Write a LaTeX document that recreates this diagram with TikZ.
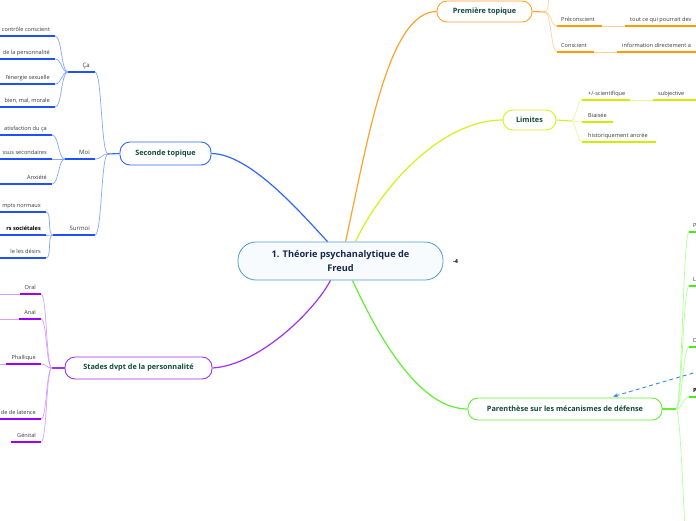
\documentclass[tikz,border=0pt]{standalone}
\usepackage{fontspec}
\setmainfont{Open Sans}
\usetikzlibrary{calc,arrows.meta}
\definecolor{blueM}{HTML}{2F66FF}
\definecolor{blueD}{HTML}{1F4FFF}
\definecolor{blueL}{HTML}{86A6FF}
\definecolor{purpleM}{HTML}{A030F5}
\definecolor{purpleD}{HTML}{9900FF}
\definecolor{purpleL}{HTML}{D59EFF}
\definecolor{orangeM}{HTML}{FFA22E}
\definecolor{orangeD}{HTML}{FF9A00}
\definecolor{orangeL}{HTML}{FFD294}
\definecolor{limeM}{HTML}{D6F01A}
\definecolor{limeD}{HTML}{CCEE00}
\definecolor{limeL}{HTML}{EAF896}
\definecolor{greenM}{HTML}{62EE33}
\definecolor{greenD}{HTML}{44EE11}
\definecolor{greenL}{HTML}{B0FF96}
\definecolor{rootB}{HTML}{4C9BD8}
\definecolor{rootF}{HTML}{F8FBFE}
\definecolor{rootT}{HTML}{16284A}
\definecolor{topicT}{HTML}{124A3A}
\definecolor{leafT}{HTML}{3A3A3A}
\definecolor{dashC}{HTML}{3A8BE0}
\tikzset{
  rootnode/.style={draw=rootB,fill=rootF,line width=0.8pt,rounded corners=18pt,
    minimum width=205pt,minimum height=38pt,align=center,inner sep=0pt,
    font=\bfseries\fontsize{9.2}{14}\selectfont,text=rootT},
  topic/.style={fill=white,line width=0.9pt,rounded corners=10pt,inner sep=0pt,
    font=\bfseries\fontsize{7.3}{8}\selectfont,text=topicT},
  mainc/.style={line width=1.2pt},
  stem/.style={line width=1.1pt},
  uline/.style={line width=1.4pt},
  lightc/.style={line width=0.7pt},
  lbl/.style={inner sep=0pt,font=\fontsize{5.6}{6}\selectfont,text=leafT},
  sublbl/.style={font=\fontsize{6}{6}\selectfont},
  fk/.style={to path={.. controls ($(\tikztostart)+(#1,0)$) and ($(\tikztotarget)+(-#1,0)$) .. (\tikztotarget)}},
  fk/.default=7,
  dasharrow/.style={dashC,line width=0.9pt,dash pattern=on 4pt off 3pt,
    -{Stealth[length=5pt,width=4pt,open]}}
}
% left-side leaf: underline from xl to xr at y, text right-aligned
\newcommand\lft[7][]{%
  \coordinate (#2-a) at (#3,#5);
  \coordinate (#2-b) at (#4,#5);
  \draw[uline,#7] (#2-a) -- (#2-b);
  \node[lbl,anchor=base east,#1] (#2) at ($(#2-b)+(-5,-5)$) {#6};
}
% right-side leaf: underline from xl to xr at y, text left-aligned
\newcommand\rgt[7][]{%
  \coordinate (#2-a) at (#3,#5);
  \coordinate (#2-b) at (#4,#5);
  \draw[uline,#7] (#2-a) -- (#2-b);
  \node[lbl,anchor=base west,#1] (#2) at ($(#2-a)+(5,-5)$) {#6};
}
\begin{document}
\begin{tikzpicture}[x=1pt,y=-1pt]
\useasboundingbox (0,0) rectangle (696,520);
\fill[white] (0,0) rectangle (696,520);

% ---------- nodes ----------
\node[rootnode] (root) at (340.5,261) {1. Théorie psychanalytique de\\Freud};
\node[topic,draw=blueM,minimum width=91pt,minimum height=23pt] (sec) at (165.5,153.5) {Seconde topique};
\node[topic,draw=orangeM,minimum width=95pt,minimum height=21pt] (prem) at (484.5,11.5) {Première topique};
\node[topic,draw=limeM,minimum width=53pt,minimum height=20pt] (lim) at (529.5,120) {Limites};
\node[topic,draw=purpleM,minimum width=147pt,minimum height=22pt] (stad) at (138.5,368) {Stades dvpt de la personnalité};
\node[topic,draw=greenM,minimum width=194pt,minimum height=22pt] (pmd) at (565,409) {Parenthèse sur les mécanismes de défense};
\node[inner sep=0pt,font=\bfseries\fontsize{5.5}{6}\selectfont,text=black] (icon) at (455.5,262) {-4};

% ---------- main connectors ----------
\draw[mainc,blueM] (sec.east) .. controls (250,154) and (300,212) .. ($(root.north)+(-13,0)$);
\draw[mainc,orangeM] ($(root.north)+(5,0)$) .. controls (368,140) and (388,12) .. (prem.west);
\draw[mainc,limeM] ($(root.north)+(15,0)$) .. controls (385,180) and (445,120) .. (lim.west);
\draw[mainc,purpleM] ($(root.south)+(-10,0)$) .. controls (315,310) and (260,365) .. (stad.east);
\draw[mainc,greenM] ($(root.south)+(12,0)$) .. controls (380,340) and (420,409) .. (pmd.west);

% ---------- Seconde topique ----------
\coordinate (secF) at (108,154);
\draw[stem,blueM] (sec.west) -- (secF);
\lft[sublbl]{ca}{68}{95}{72}{Ça}{blueD}
\lft[sublbl]{moi}{65}{95}{159}{Moi}{blueD}
\lft[sublbl]{sur}{53}{95}{235}{Surmoi}{blueD}
\foreach \n in {ca,moi,sur} \draw[lightc,blueL] (\n-b) to[fk=7] (secF);
\lft{c1}{0}{55}{36}{contrôle conscient}{blueD}
\lft{c2}{0}{55}{59}{de la personnalité}{blueD}
\lft{c3}{0}{55}{84}{l'énergie sexuelle}{blueD}
\lft{c4}{0}{55}{107}{bien, mal, morale}{blueD}
\foreach \n in {c1,c2,c3,c4} \draw[lightc,blueL] (ca-a) to[fk=-7] (\n-b);
\lft{m1}{0}{52}{135}{atisfaction du ça}{blueD}
\lft{m2}{0}{52}{159}{ssus secondaires}{blueD}
\lft{m3}{0}{52}{184}{Anxiété}{blueD}
\foreach \n in {m1,m2,m3} \draw[lightc,blueL] (moi-a) to[fk=-7] (\n-b);
\lft{s1}{0}{46}{212}{mpts normaux}{blueD}
\lft[font=\bfseries\fontsize{5.6}{6}\selectfont,text=black]{s2}{0}{46}{235}{rs sociétales}{blueD}
\lft{s3}{0}{46}{258}{le les désirs}{blueD}
\foreach \n in {s1,s2,s3} \draw[lightc,blueL] (sur-a) to[fk=-6] (\n-b);

% ---------- Stades ----------
\coordinate (stF) at (52,368);
\draw[stem,purpleM] (stad.west) -- (stF);
\lft{p1}{20}{41}{294}{Oral}{purpleD}
\lft{p2}{19}{41}{319}{Anal}{purpleD}
\lft{p3}{6}{41}{364}{Phallique}{purpleD}
\lft{p4}{0}{41}{419}{de de latence}{purpleD}
\lft{p5}{11}{41}{442}{Génital}{purpleD}
\foreach \n in {p1,p2,p3} \draw[lightc,purpleL] (\n-a) -- ($(\n-a)+(-25,0)$);
\foreach \n in {p1,p2,p3,p4,p5} \draw[lightc,purpleL] (stF) to[fk=-6] (\n-b);

% ---------- Premiere topique ----------
\coordinate (prF) at (545,12);
\coordinate (o0) at (553,-25);
\draw[stem,orangeM] (prem.east) -- (prF);
\rgt[xshift=-1pt]{o1}{557}{602}{26}{Préconscient}{orangeD}
\rgt{o1x}{625}{700}{26}{tout ce qui pourrait dev}{orangeD}
\rgt[xshift=-1pt]{o2}{557}{594}{52}{Conscient}{orangeD}
\rgt{o2x}{617}{700}{52}{information directement a}{orangeD}
\draw[lightc,orangeL] (o1-b) -- (o1x-a);
\draw[lightc,orangeL] (o2-b) -- (o2x-a);
\foreach \n in {o1-a,o2-a,o0} \draw[lightc,orangeL] (prF) to[fk=6] (\n);

% ---------- Limites ----------
\coordinate (liF) at (571,121);
\draw[stem,limeM] (lim.east) -- (liF);
\rgt[xshift=1pt]{l1}{582}{630}{100}{+/-scientifique}{limeD}
\rgt{l1x}{653}{700}{100}{subjective}{limeD}
\rgt[xshift=1pt]{l2}{582}{613}{122}{Biaisée}{limeD}
\rgt[xshift=1pt]{l3}{582}{656}{142}{historiquement ancrée}{limeD}
\draw[lightc,limeL] (l1-b) -- (l1x-a);
\foreach \n in {l1,l2,l3} \draw[lightc,limeL] (liF) to[fk=5] (\n-a);

% ---------- Parenthese ----------
\coordinate (gF) at (676,409);
\coordinate (g5) at (690,570);
\draw[stem,greenM] (pmd.east) -- (gF);
\rgt[xshift=-1pt]{g1}{689}{700}{232}{P}{greenD}
\rgt[xshift=-1pt]{g2}{689}{700}{286}{L}{greenD}
\rgt[xshift=-1pt]{g3}{689}{700}{347}{D}{greenD}
\rgt[xshift=-1pt,font=\bfseries\fontsize{5.6}{6}\selectfont,text=black]{g4}{689}{700}{397}{P}{greenD}
\foreach \n in {g1-a,g2-a,g3-a,g4-a,g5} \draw[lightc,greenL] (gF) to[fk=6] (\n);

% ---------- dashed relation ----------
\coordinate (dstart) at (700,371);
\draw[dasharrow] (dstart) -- ($(pmd.north)+(48,-1)$);
\end{tikzpicture}
\end{document}
